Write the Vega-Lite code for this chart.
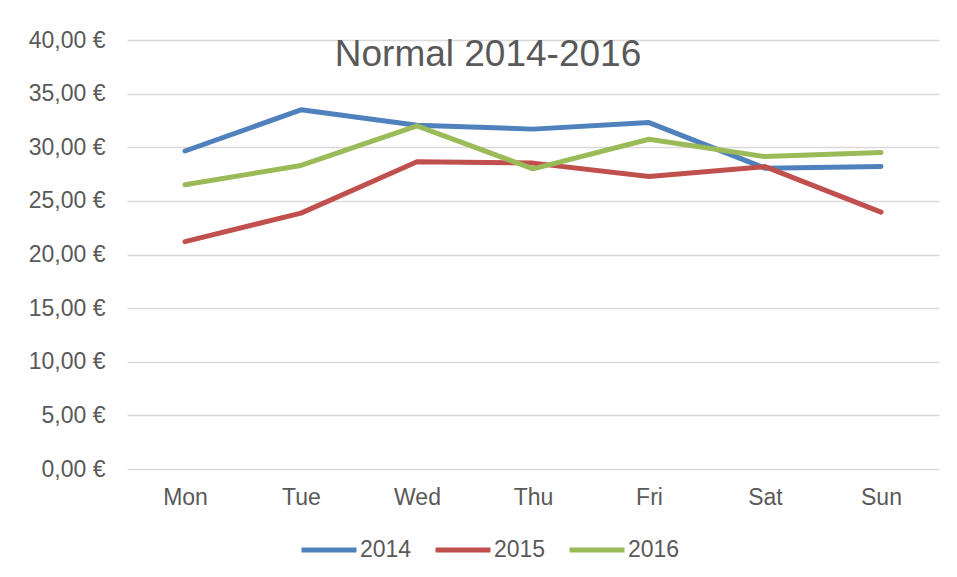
{
  "$schema": "https://vega.github.io/schema/vega-lite/v6.json",
  "autosize": "none",
  "width": 812,
  "height": 429,
  "padding": {"left": 127, "top": 40, "right": 18, "bottom": 108},
  "background": "white",
  "title": {
    "text": "Normal 2014-2016",
    "font": "Liberation Sans",
    "fontSize": 37,
    "fontWeight": "normal",
    "color": "#595959",
    "anchor": "middle",
    "frame": "group",
    "baseline": "alphabetic",
    "offset": -48,
    "dx": -45,
    "dy": 26
  },
  "data": {
    "values": [
      {"day": "Mon", "year": "2014", "value": 29.65},
      {"day": "Tue", "year": "2014", "value": 33.49},
      {"day": "Wed", "year": "2014", "value": 32.05},
      {"day": "Thu", "year": "2014", "value": 31.69},
      {"day": "Fri", "year": "2014", "value": 32.3},
      {"day": "Sat", "year": "2014", "value": 28.05},
      {"day": "Sun", "year": "2014", "value": 28.2},
      {"day": "Mon", "year": "2015", "value": 21.2},
      {"day": "Tue", "year": "2015", "value": 23.86},
      {"day": "Wed", "year": "2015", "value": 28.64},
      {"day": "Thu", "year": "2015", "value": 28.52},
      {"day": "Fri", "year": "2015", "value": 27.27},
      {"day": "Sat", "year": "2015", "value": 28.2},
      {"day": "Sun", "year": "2015", "value": 23.95},
      {"day": "Mon", "year": "2016", "value": 26.5},
      {"day": "Tue", "year": "2016", "value": 28.3},
      {"day": "Wed", "year": "2016", "value": 32.0},
      {"day": "Thu", "year": "2016", "value": 27.99},
      {"day": "Fri", "year": "2016", "value": 30.75},
      {"day": "Sat", "year": "2016", "value": 29.13},
      {"day": "Sun", "year": "2016", "value": 29.5}
    ]
  },
  "mark": {"type": "line", "strokeWidth": 5, "strokeCap": "round", "strokeJoin": "round"},
  "encoding": {
    "x": {
      "field": "day",
      "type": "ordinal",
      "sort": ["Mon", "Tue", "Wed", "Thu", "Fri", "Sat", "Sun"],
      "scale": {"type": "point", "padding": 0.5},
      "axis": {
        "title": null,
        "labelAngle": 0,
        "labelFont": "Liberation Sans",
        "labelFontSize": 23,
        "labelColor": "#595959",
        "labelPadding": 17,
        "ticks": false,
        "domain": false,
        "grid": false
      }
    },
    "y": {
      "field": "value",
      "type": "quantitative",
      "scale": {"domain": [0, 40], "nice": false},
      "axis": {
        "title": null,
        "values": [0, 5, 10, 15, 20, 25, 30, 35, 40],
        "labelExpr": "replace(format(datum.value, '.2f'), '.', ',') + ' €'",
        "labelFont": "Liberation Sans",
        "labelFontSize": 23,
        "labelColor": "#595959",
        "labelPadding": 22,
        "ticks": false,
        "domain": false,
        "grid": true,
        "gridColor": "#D9D9D9",
        "gridWidth": 1.5
      }
    },
    "color": {
      "field": "year",
      "type": "nominal",
      "scale": {"domain": ["2014", "2015", "2016"], "range": ["#4F81BD", "#C0504D", "#9BBB59"]},
      "legend": {
        "title": null,
        "orient": "none",
        "direction": "horizontal",
        "legendX": 172,
        "legendY": 480,
        "symbolType": "stroke",
        "symbolSize": 3025,
        "symbolStrokeWidth": 5,
        "labelFont": "Liberation Sans",
        "labelFontSize": 23,
        "labelColor": "#595959",
        "labelOffset": 1,
        "columnPadding": 13
      }
    }
  },
  "config": {"view": {"stroke": null}}
}
